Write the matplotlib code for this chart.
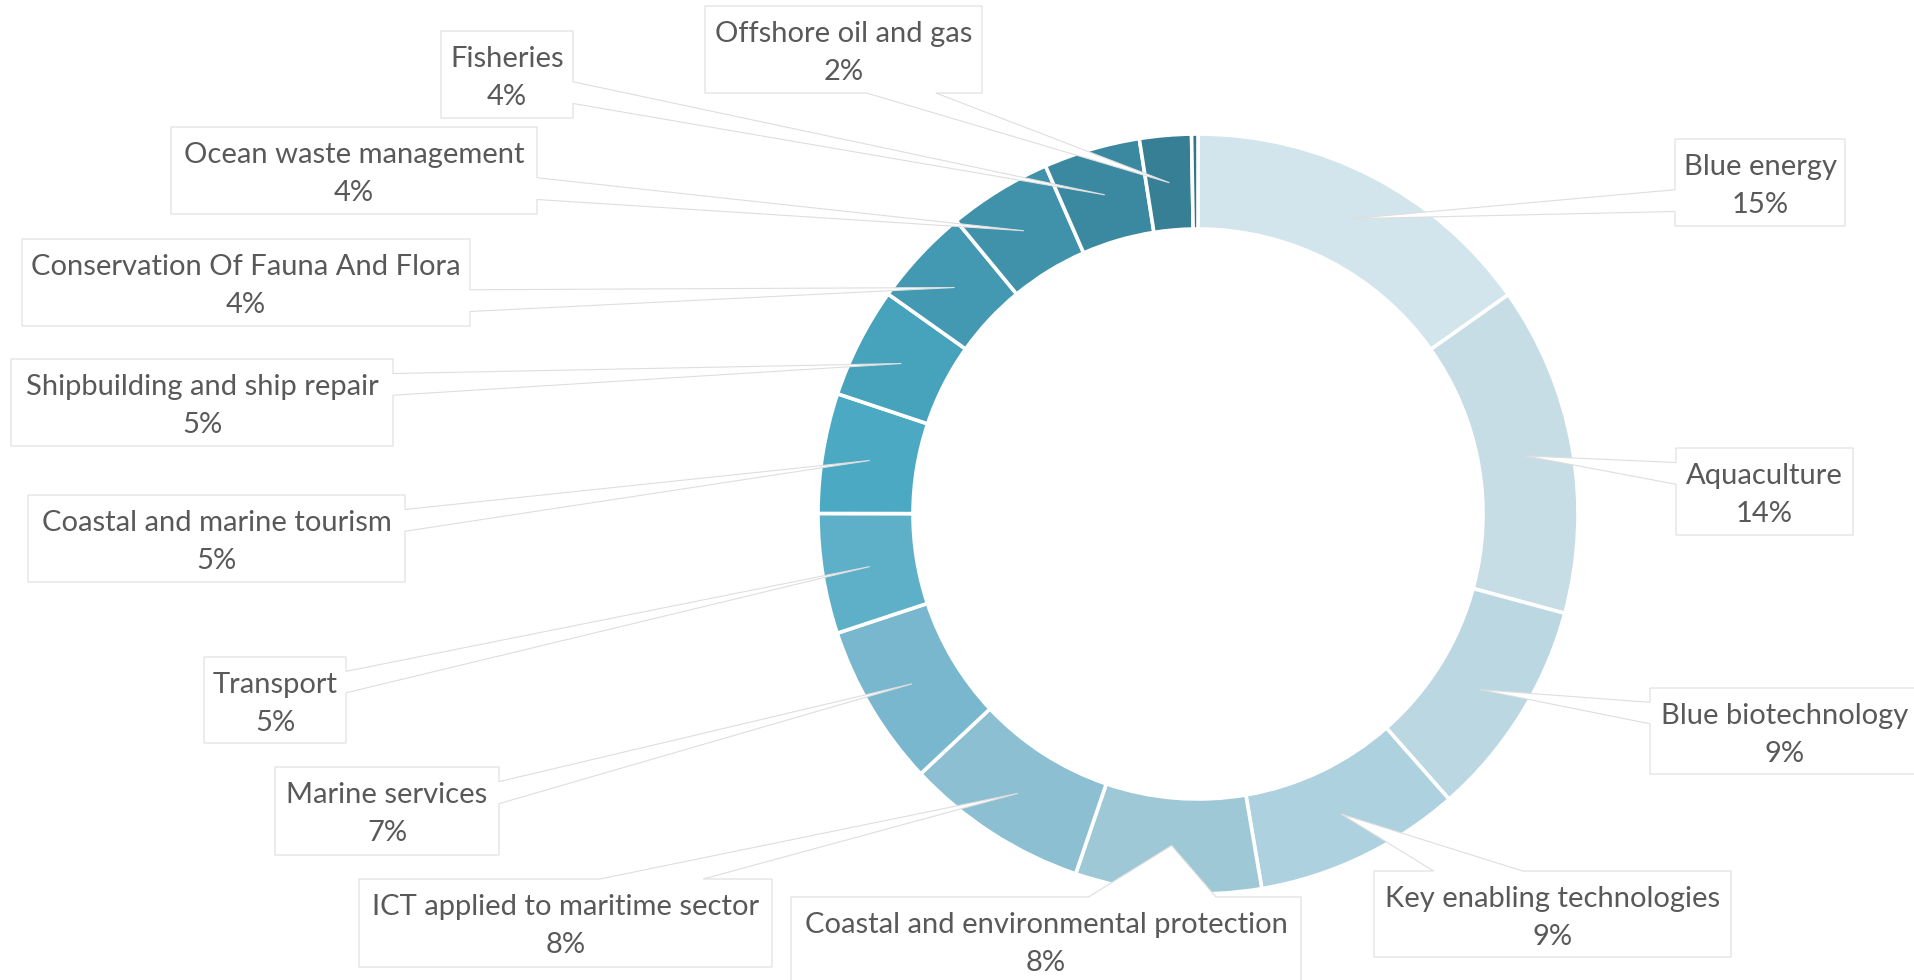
import numpy as np
import matplotlib.pyplot as plt
from matplotlib.patches import Polygon

# sector shares (%), clockwise from 12 o'clock
sectors = ["Blue energy", "Aquaculture", "Blue biotechnology",
           "Key enabling technologies", "Coastal and environmental protection",
           "ICT applied to maritime sector", "Marine services", "Transport",
           "Coastal and marine tourism", "Shipbuilding and ship repair",
           "Conservation Of Fauna And Flora", "Ocean waste management",
           "Fisheries", "Offshore oil and gas", "Other"]
shares = [15.2, 14.0, 9.3, 8.8, 7.9, 7.8, 6.9, 5.1, 5.1, 4.7, 4.2, 4.4, 4.1, 2.2, 0.27]
colors = ["#d3e5ec", "#c6dde6", "#bbd8e2", "#add1de", "#9fc8d7", "#8cbfd1",
          "#78b7cd", "#5db0c8", "#4ca9c3", "#47a2bc", "#4399b2", "#3f92aa",
          "#3b89a0", "#377f94", "#33768a"]
show_label = [True] * 14 + [False]

# callout boxes in pixels (left, top, right, bottom), y measured from the top
boxes = [(1675, 139, 1845, 226), (1676, 448, 1853, 535), (1650, 688, 1920, 774),
         (1374, 871, 1731, 957), (791, 897, 1301, 984), (359, 879, 772, 967),
         (275, 767, 499, 855), (204, 657, 346, 743), (28, 495, 405, 582),
         (11, 359, 393, 446), (22, 239, 470, 326), (171, 127, 537, 214),
         (441, 31, 573, 118), (705, 6, 982, 93), None]

W, H = 1914, 980
CX, CY = 1198, 514
R_OUT, RING = 380, 95

fig = plt.figure(figsize=(W / 100, H / 100), dpi=100)
ax = fig.add_axes([0, 0, 1, 1])

wedges, _ = ax.pie(shares, colors=colors, startangle=90, counterclock=False,
                   radius=R_OUT, center=(CX, H - CY),
                   wedgeprops=dict(width=RING, edgecolor="white", linewidth=2.6))
ax.set_xlim(0, W)
ax.set_ylim(0, H)
ax.set_aspect("equal")
ax.axis("off")


def callout(box, tip):
    """rectangle with a wedge pointing at tip (pixel coords, y down)"""
    x0, y0, x1, y1 = box
    w, h = x1 - x0, y1 - y0
    mx, my = (x0 + x1) / 2, (y0 + y1) / 2
    dx, dy = tip[0] - mx, tip[1] - my
    if abs(dx * h) > abs(dy * w):
        a, b = (y0 + h * 2 / 12, y0 + h * 5 / 12) if dy < 0 else (y0 + h * 7 / 12, y0 + h * 10 / 12)
        if dx < 0:
            pts = [(x0, y0), (x1, y0), (x1, y1), (x0, y1), (x0, b), tip, (x0, a)]
        else:
            pts = [(x0, y0), (x1, y0), (x1, a), tip, (x1, b), (x1, y1), (x0, y1)]
    else:
        a, b = (x0 + w * 2 / 12, x0 + w * 5 / 12) if dx < 0 else (x0 + w * 7 / 12, x0 + w * 10 / 12)
        if dy < 0:
            pts = [(x0, y0), (a, y0), tip, (b, y0), (x1, y0), (x1, y1), (x0, y1)]
        else:
            pts = [(x0, y0), (x1, y0), (x1, y1), (b, y1), tip, (a, y1), (x0, y1)]
    return [(px, H - py) for px, py in pts]


total = sum(shares)
for wdg, name, val, box, show in zip(wedges, sectors, shares, boxes, show_label):
    if not show:
        continue
    mid = np.deg2rad((wdg.theta1 + wdg.theta2) / 2)
    r_mid = wdg.r - wdg.width / 2
    tip = (wdg.center[0] + r_mid * np.cos(mid), H - (wdg.center[1] + r_mid * np.sin(mid)))
    ax.add_patch(Polygon(callout(box, tip), closed=True, facecolor="white",
                         edgecolor="#dedede", linewidth=0.8, zorder=3))
    cx = (box[0] + box[2]) / 2
    ax.text(cx, H - (box[1] + 36), name, ha="center", va="baseline",
            fontsize=21, color="#595959", family=["Lato", "DejaVu Sans"], zorder=4)
    ax.text(cx, H - (box[1] + 74), f"{val / total * 100:.0f}%", ha="center",
            va="baseline", fontsize=21, color="#595959",
            family=["Lato", "DejaVu Sans"], zorder=4)

fig.savefig("out.png", dpi=100, facecolor="white")
